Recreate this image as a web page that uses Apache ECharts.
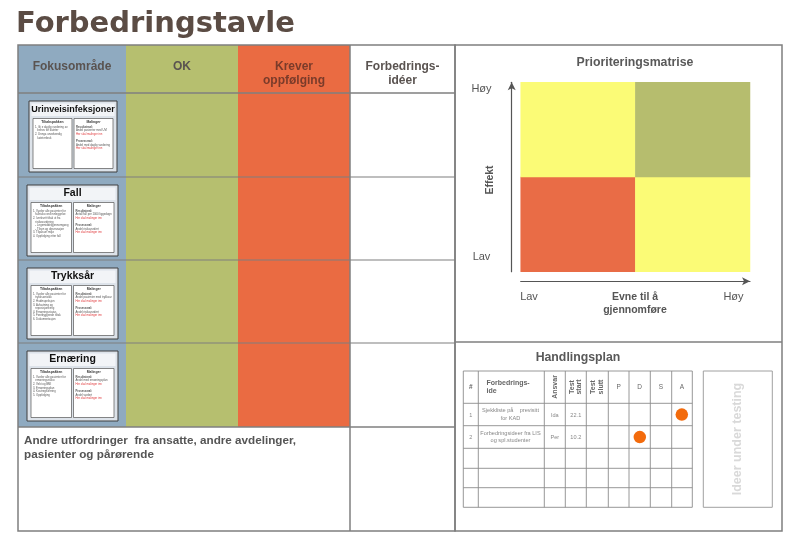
<!DOCTYPE html>
<html>
<head>
<meta charset="utf-8">
<title>Forbedringstavle</title>
<script src="https://cdn.jsdelivr.net/npm/echarts@6/dist/echarts.min.js"></script>
<style>
  html, body { margin: 0; padding: 0; background: #fff; }
  #chart { width: 803px; height: 551px; }
</style>
</head>
<body>
<div id="chart"></div>
<script>
// tavle
const boardTitle = 'Forbedringstavle'
const boardColumns = ['Fokusområde', 'OK', 'Krever\noppfølging', 'Forbedrings-\nidéer']
const focusAreas = ['Urinveisinfeksjoner', 'Fall', 'Trykksår', 'Ernæring']
const otherChallenges = 'Andre utfordringer  fra ansatte, andre avdelinger,\npasienter og pårørende'

// små tekster på kortene
const cardMeasureHeads = ['Tiltakspakken', 'Målinger']
const cardBundles = [
  ['1. Gi e daglig vurdering av', '   behov for kateter', '2. Unngå unødvendig', '   kateterbruk'],
  ['1. Vurder alle pasienter for', '   fallrisiko ved innleggelse', '2. Iverksett tiltak ut fra', '   risikovurdering', '   - Legemiddelgjennomgang', '   - Tilsyn og observasjon', '3. Tilpasset miljø', '4. Oppfølging etter fall'],
  ['1. Vurder alle pasienter for', '   trykksårrisiko', '2. Hudinspeksjon', '3. Avlastning og', '   reposisjonering', '4. Ernæringsstatus', '5. Forebyggende tiltak', '6. Dokumentasjon'],
  ['1. Vurder alle pasienter for', '   ernæringsrisiko', '2. Vekt og BMI', '3. Ernæringsplan', '4. Kostregistrering', '5. Oppfølging']
]
const cardMeasures = [
  ['Resultatmål:', 'Andel pasienter med UVI', '*Her skal målinger inn', '', 'Prosessmål:', 'Andel med daglig vurdering', '*Her skal målinger inn'],
  ['Resultatmål:', 'Antall fall per 1000 liggedøgn', '*Her skal målinger inn', '', 'Prosessmål:', 'Andel risikovurdert', '*Her skal målinger inn'],
  ['Resultatmål:', 'Andel pasienter med trykksår', '*Her skal målinger inn', '', 'Prosessmål:', 'Andel risikovurdert', '*Her skal målinger inn'],
  ['Resultatmål:', 'Andel med ernæringsplan', '*Her skal målinger inn', '', 'Prosessmål:', 'Andel vurdert', '*Her skal målinger inn']
]

// prioriteringsmatrise: [evne, effekt, kategori]
const matrixTitle = 'Prioriteringsmatrise'
const matrixLevels = ['Lav', 'Høy']
const matrixCells = [[0, 0, 0], [1, 0, 1], [0, 1, 1], [1, 1, 2]]
const matrixXName = 'Evne til å\ngjennomføre'
const matrixYName = 'Effekt'

// handlingsplan
const planTitle = 'Handlingsplan'
const planHeaders = ['#', 'Forbedrings-\nide', 'Ansvar', 'Test\nstart', 'Test\nslutt', 'P', 'D', 'S', 'A']
const planIds = ['1', '2']
const planIdeas = ['Sjekkliste på    previsitt\nfor KAD', 'Forbedringsideer fra LIS\nog spl.studenter']
const planOwners = ['Ida', 'Per']
const planStarts = ['22.1', '10.2']
const pdsaSteps = ['P', 'D', 'S', 'A']
const pdsaStatus = [['A', '1'], ['D', '2']]
const testingBox = 'Ideer under testing'

const SANS = '"Liberation Sans", Arial, sans-serif'
const VERD = '"DejaVu Sans", Verdana, sans-serif'
const LINE = '#7f7f7f'
const TXT = '#5a5350'

function rect(x, y, w, h, fill, stroke, lw) {
  return { type: 'rect', silent: true, shape: { x: x, y: y, width: w, height: h },
    style: { fill: fill || 'none', stroke: stroke || 'none', lineWidth: lw || 0 } }
}
function line(x1, y1, x2, y2, color, lw) {
  return { type: 'line', silent: true, shape: { x1: x1, y1: y1, x2: x2, y2: y2 },
    style: { stroke: color || LINE, lineWidth: lw || 1 } }
}
function txt(x, y, s, size, o) {
  o = o || {}
  return {
    type: 'text', silent: true, x: x, y: y, rotation: o.rot || 0,
    style: {
      text: s, fill: o.color || TXT, fontSize: size,
      fontWeight: o.bold ? 'bold' : 'normal', fontFamily: o.family || SANS,
      textAlign: o.align || 'center', textVerticalAlign: o.va || 'middle',
      align: o.align || 'center', verticalAlign: o.va || 'middle',
      lineHeight: o.lh || Math.round(size * 1.2)
    }
  }
}

const els = []

// tittel
els.push(txt(16, 24, boardTitle, 29, { bold: true, family: VERD, align: 'left', color: '#5b4c44' }))

// venstre tavle
const colX = [18, 126, 238, 350, 455]
const rowY = [45, 93, 177, 260, 343, 427, 531]
const colFill = ['#8faac0', '#b6bf6f', '#ea6b42']
colFill.forEach((c, i) => {
  els.push(rect(colX[i], rowY[0], colX[i + 1] - colX[i], rowY[5] - rowY[0], c))
})
for (let r = 1; r <= 5; r++) {
  els.push(line(colX[0], rowY[r], colX[4], rowY[r], LINE, r === 1 || r === 5 ? 1.5 : 1.2))
}
els.push(line(colX[3], rowY[0], colX[3], rowY[6], LINE, 1.5))
els.push(rect(colX[0], rowY[0], colX[4] - colX[0], rowY[6] - rowY[0], 'none', LINE, 1.5))

boardColumns.forEach((name, i) => {
  const cx = (colX[i] + colX[i + 1]) / 2
  const two = name.indexOf('\n') >= 0
  els.push(txt(cx, two ? 74 : 66.5, name, 12, { bold: true, lh: 14,
    color: i === 2 ? '#7a3b2a' : TXT }))
})

// kort i fokusområde-kolonnen
const cardBoxes = [
  { x: 29, y: 101, w: 88, h: 71, fs: 9 },
  { x: 27, y: 185, w: 91, h: 71, fs: 10.5 },
  { x: 27, y: 268, w: 91, h: 71, fs: 10.5 },
  { x: 27, y: 351, w: 91, h: 70, fs: 10.5 }
]
cardBoxes.forEach((b, i) => {
  els.push(rect(b.x, b.y, b.w, b.h, '#dde3ea', '#3f3f3f', 1))
  els.push(rect(b.x + 2.5, b.y + 2.5, b.w - 5, 12.5, '#f2f4f7'))
  els.push(txt(b.x + b.w / 2, b.y + 8.6, focusAreas[i], b.fs, { bold: true, color: '#111' }))
  const bw = b.w / 2 - 5
  const by = b.y + 17.5
  const bh = b.h - 21
  const lx = b.x + 4
  const rx = b.x + b.w / 2 + 1
  els.push(rect(lx, by, bw, bh, '#fff', '#555', 0.7))
  els.push(rect(rx, by, bw, bh, '#fff', '#555', 0.7))
  els.push(txt(lx + bw / 2, by + 4, cardMeasureHeads[0], 3.4, { bold: true, color: '#333' }))
  els.push(txt(rx + bw / 2, by + 4, cardMeasureHeads[1], 3.4, { bold: true, color: '#333' }))
  cardBundles[i].forEach((s, k) => {
    els.push(txt(lx + 2, by + 8.5 + k * 3.6, s, 2.8, { align: 'left', color: '#555' }))
  })
  cardMeasures[i].forEach((s, k) => {
    const red = s.charAt(0) === '*'
    els.push(txt(rx + 2, by + 8.5 + k * 3.6, red ? s.slice(1) : s, 2.8,
      { align: 'left', color: red ? '#e0383a' : '#555', bold: k === 0 || k === 4 }))
  })
})

els.push(txt(24, 434, otherChallenges, 11.7, { bold: true, align: 'left', va: 'top', lh: 14, color: '#555' }))

// høyre panel
els.push(rect(455, 45, 327, 486, 'none', LINE, 1.5))
els.push(line(455, 342, 782, 342, LINE, 1.5))

// matrise-tekster
els.push(txt(635, 63, matrixTitle, 12.3, { bold: true, color: '#595959' }))
els.push(txt(481.5, 89, matrixLevels[1], 11, { color: '#555' }))
els.push(txt(481.5, 256.5, matrixLevels[0], 11, { color: '#555' }))
els.push(txt(490, 180, matrixYName, 10.5, { bold: true, rot: Math.PI / 2, color: '#555' }))
els.push(txt(529, 297, matrixLevels[0], 11, { color: '#555' }))
els.push(txt(733.5, 297, matrixLevels[1], 11, { color: '#555' }))
els.push(txt(635, 303.5, matrixXName, 10.5, { bold: true, lh: 13.4, color: '#555' }))

// handlingsplan
els.push(txt(578, 358, planTitle, 12.3, { bold: true, color: '#595959' }))
const pcx = [463.3, 478.3, 544.3, 565.3, 586.3, 608.3, 629, 650.3, 671.7, 692.3]
const pry = [371, 403.3, 425.7, 448.3, 468.3, 487.7, 507.3]
pcx.forEach(x => els.push(line(x, pry[0], x, pry[6], '#8c8c8c', 0.9)))
pry.forEach(y => els.push(line(pcx[0], y, pcx[9], y, '#8c8c8c', 0.9)))
planHeaders.forEach((h, i) => {
  const cx = (pcx[i] + pcx[i + 1]) / 2
  if (i === 1) {
    els.push(txt(486.5, 387, h, 7, { bold: true, align: 'left', lh: 8, color: '#666' }))
  } else if (i >= 2 && i <= 4) {
    els.push(txt(cx, 387, h, 7, { bold: true, rot: Math.PI / 2, lh: 7.5, color: '#666' }))
  } else {
    els.push(txt(cx, 387.5, h, 6.5, { bold: i === 0, color: '#666' }))
  }
})
planIds.forEach((id, r) => {
  const cy = (pry[r + 1] + pry[r + 2]) / 2 + 0.5
  els.push(txt((pcx[0] + pcx[1]) / 2, cy, id, 5.5, { color: '#888' }))
  els.push(txt(510.5, cy - 0.5, planIdeas[r], 5.6, { color: '#888', lh: 7.4 }))
  els.push(txt((pcx[2] + pcx[3]) / 2, cy, planOwners[r], 5.6, { color: '#888' }))
  els.push(txt((pcx[3] + pcx[4]) / 2, cy, planStarts[r], 5.6, { color: '#888' }))
})
els.push(rect(703.3, 371, 69, 136.3, 'none', '#a0a0a0', 1))
els.push(txt(738, 439, testingBox, 12.5, { bold: true, rot: Math.PI / 2, color: '#d9d9d9' }))

const chart = echarts.init(document.getElementById('chart'), null, { renderer: 'canvas' })

const arrowAxis = {
  show: true, onZero: false, symbol: ['none', 'arrow'], symbolSize: [6, 8],
  lineStyle: { color: '#555', width: 1.2 }
}

chart.setOption({
  animation: false,
  backgroundColor: '#fff',
  graphic: { elements: els },
  grid: [
    { left: 520.7, top: 82.3, width: 229.3, height: 189.4 },
    { left: 608.3, top: 403.3, width: 84, height: 45 }
  ],
  xAxis: [
    { type: 'category', gridIndex: 0, data: matrixLevels, offset: 9.5,
      axisLine: arrowAxis, axisTick: { show: false }, axisLabel: { show: false }, splitLine: { show: false } },
    { type: 'category', gridIndex: 1, data: pdsaSteps, show: false }
  ],
  yAxis: [
    { type: 'category', gridIndex: 0, data: matrixLevels, offset: 9,
      axisLine: arrowAxis, axisTick: { show: false }, axisLabel: { show: false }, splitLine: { show: false } },
    { type: 'category', gridIndex: 1, data: planIds, inverse: true, show: false }
  ],
  visualMap: {
    type: 'piecewise', show: false, seriesIndex: 0, dimension: 2,
    pieces: [
      { value: 0, color: '#e96c46' },
      { value: 1, color: '#fbfb76' },
      { value: 2, color: '#b6bd6e' }
    ]
  },
  series: [
    { type: 'heatmap', xAxisIndex: 0, yAxisIndex: 0, data: matrixCells,
      itemStyle: { borderWidth: 0 }, emphasis: { disabled: true }, silent: true },
    { type: 'scatter', xAxisIndex: 1, yAxisIndex: 1, data: pdsaStatus,
      symbolSize: 12.5, itemStyle: { color: '#f36b0c', opacity: 1 }, silent: true }
  ]
})
</script>
</body>
</html>
